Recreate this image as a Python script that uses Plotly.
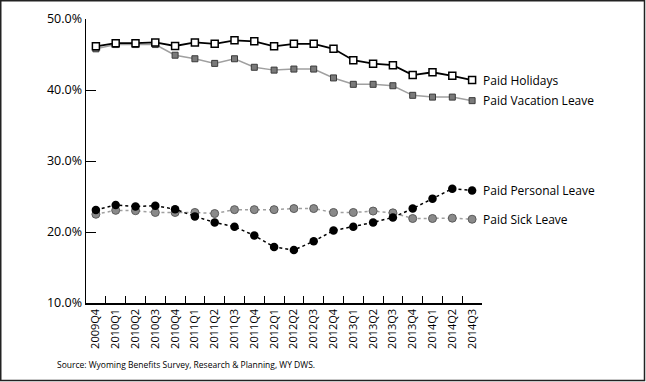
import plotly.graph_objects as go

quarters = ["2009Q4", "2010Q1", "2010Q2", "2010Q3", "2010Q4", "2011Q1", "2011Q2", "2011Q3",
            "2011Q4", "2012Q1", "2012Q2", "2012Q3", "2012Q4", "2013Q1", "2013Q2", "2013Q3",
            "2013Q4", "2014Q1", "2014Q2", "2014Q3"]

paid_holidays = [46.15, 46.6, 46.6, 46.7, 46.2, 46.7, 46.5, 47.0, 46.85, 46.15,
                 46.5, 46.5, 45.8, 44.2, 43.7, 43.5, 42.1, 42.5, 42.0, 41.4]
paid_vacation = [45.8, 46.4, 46.4, 46.4, 44.9, 44.4, 43.75, 44.4, 43.2, 42.8,
                 42.95, 42.95, 41.7, 40.8, 40.8, 40.6, 39.25, 39.0, 39.0, 38.5]
paid_personal = [23.1, 23.8, 23.6, 23.7, 23.2, 22.2, 21.35, 20.75, 19.5, 17.9,
                 17.45, 18.7, 20.2, 20.75, 21.35, 22.05, 23.3, 24.7, 26.1, 25.85]
paid_sick = [22.5, 23.05, 23.0, 22.75, 22.75, 22.75, 22.6, 23.15, 23.15, 23.15,
             23.3, 23.3, 22.75, 22.75, 22.95, 22.7, 21.9, 21.9, 21.95, 21.8]

y_ticks = [10, 20, 30, 40, 50]
y_tick_labels = ["10.0%", "20.0%", "30.0%", "40.0%", "50.0%"]

series_names = ["Paid Holidays", "Paid Vacation Leave", "Paid Personal Leave", "Paid Sick Leave"]

FONT = "Open Sans"

fig = go.Figure()

fig.add_trace(go.Scatter(
    x=quarters, y=paid_sick, mode="lines+markers", name=series_names[3],
    line=dict(color="#a0a0a0", width=1.5, dash="dot"),
    marker=dict(symbol="circle", size=8, color="#8a8a8a", line=dict(color="#5a5a5a", width=1)),
))
fig.add_trace(go.Scatter(
    x=quarters, y=paid_personal, mode="lines+markers", name=series_names[2],
    line=dict(color="#000000", width=1.5, dash="dot"),
    marker=dict(symbol="circle", size=8.5, color="#000000"),
))
fig.add_trace(go.Scatter(
    x=quarters, y=paid_vacation, mode="lines+markers", name=series_names[1],
    line=dict(color="#a0a0a0", width=1.5),
    marker=dict(symbol="square", size=6, color="#7a7a7a", line=dict(color="#3a3a3a", width=1)),
))
fig.add_trace(go.Scatter(
    x=quarters, y=paid_holidays, mode="lines+markers", name=series_names[0],
    line=dict(color="#000000", width=1.8),
    marker=dict(symbol="square", size=7, color="#ffffff", line=dict(color="#000000", width=1.5)),
))

last = quarters[-1]
for name, vals in zip(series_names, [paid_holidays, paid_vacation, paid_personal, paid_sick]):
    fig.add_annotation(x=last, y=vals[-1], xref="x", yref="y", text=name, showarrow=False,
                       xanchor="left", yanchor="middle", xshift=9,
                       font=dict(family=FONT, size=12, color="#000000"))

fig.add_annotation(x=(55 - 86) / 396, y=(303 - 364) / 284, xref="paper", yref="paper",
                   text="Source: Wyoming Benefits Survey, Research & Planning, WY DWS.",
                   showarrow=False, xanchor="left", yanchor="middle",
                   font=dict(family=FONT, size=8.5, color="#000000"))

fig.add_shape(type="rect", xref="paper", yref="paper",
              x0=(0.75 - 86) / 396, x1=(644.5 - 86) / 396,
              y0=(303 - 380.5) / 284, y1=(303 - 0.75) / 284,
              line=dict(color="#222222", width=1.5), fillcolor="rgba(0,0,0,0)", layer="below")

fig.update_layout(
    width=646, height=382,
    margin=dict(l=86, r=164, t=19, b=79, autoexpand=False),
    paper_bgcolor="white", plot_bgcolor="white",
    showlegend=False, hovermode=False,
    font=dict(family=FONT, size=12, color="#000000"),
)
fig.update_xaxes(
    type="category", tickangle=-90, showgrid=False, automargin=False,
    showline=True, linecolor="#000000", linewidth=1.5,
    ticks="inside", ticklen=7, tickcolor="#000000", tickson="boundaries",
    tickfont=dict(family=FONT, size=11),
    range=[-0.5, len(quarters) - 0.5],
)
fig.update_yaxes(
    range=[10, 50], tickvals=y_ticks, ticktext=y_tick_labels, showgrid=False, automargin=False,
    showline=True, linecolor="#000000", linewidth=1.5,
    ticks="inside", ticklen=10, tickcolor="#000000",
    tickfont=dict(family=FONT, size=12.5), zeroline=False,
)

fig.write_html("out.html", config={"displayModeBar": False, "staticPlot": True},
               post_script="document.body.style.margin='0';document.body.style.overflow='hidden';")
